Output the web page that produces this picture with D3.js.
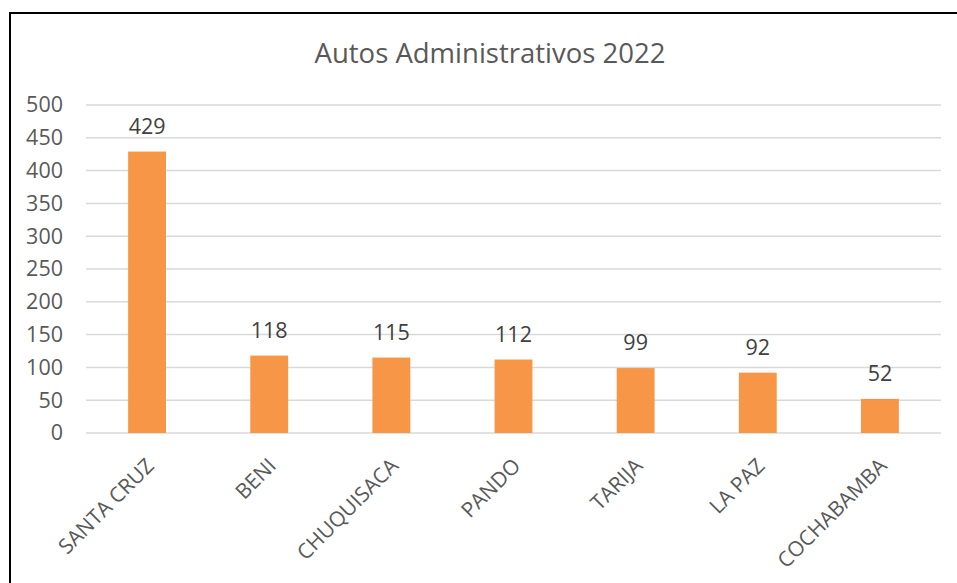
<!doctype html>
<html lang="es">
<head>
    <meta charset="UTF-8">
    <title>Autos Administrativos 2022</title>
    <style>
        body { margin: 0; background: #fff; }
        text { font-family: "Open Sans", sans-serif; fill: #595959; }
    </style>
</head>
<body>
    <svg width="957" height="583"></svg>
    <script src="https://cdn.jsdelivr.net/npm/d3@7"></script>
    <script>
        const departamentos = ["SANTA CRUZ", "BENI", "CHUQUISACA", "PANDO", "TARIJA", "LA PAZ", "COCHABAMBA"];
        const autos = [429, 118, 115, 112, 99, 92, 52];
        const yTicks = [0, 50, 100, 150, 200, 250, 300, 350, 400, 450, 500];
        const titulo = "Autos Administrativos 2022";

        const svg = d3.select("svg"),
            margin = {top: 105, right: 16, bottom: 150, left: 86},
            width = 941 - margin.left,
            height = 433 - margin.top,
            g = svg.append("g").attr("transform", "translate(" + margin.left + "," + margin.top + ")");

        // marco del grafico
        svg.append("rect")
            .attr("x", 10).attr("y", 13)
            .attr("width", 960).attr("height", 600)
            .attr("fill", "none")
            .attr("stroke", "#000")
            .attr("stroke-width", 2);

        svg.append("text")
            .attr("x", 490).attr("y", 63)
            .attr("text-anchor", "middle")
            .style("font-size", "27.5px")
            .text(titulo);

        const x = d3.scaleBand()
            .domain(departamentos)
            .range([0, width])
            .paddingInner(0.69)
            .paddingOuter(0.345);

        const y = d3.scaleLinear()
            .domain([0, 500])
            .range([height, 0]);

        // lineas de cuadricula
        g.append("g")
            .selectAll("line")
            .data(yTicks)
            .enter().append("line")
            .attr("x1", 0).attr("x2", width)
            .attr("y1", d => y(d)).attr("y2", d => y(d))
            .attr("stroke", "#d9d9d9")
            .attr("stroke-width", 1.5);

        const yAxis = g.append("g")
            .call(d3.axisLeft(y).tickValues(yTicks).tickSize(0).tickPadding(23));
        yAxis.select(".domain").remove();
        yAxis.selectAll("text")
            .style("font-size", "21.5px")
            .attr("fill", "#595959");

        // etiquetas de datos
        g.append("g")
            .selectAll("text")
            .data(autos)
            .enter().append("text")
            .attr("x", (d, i) => x(departamentos[i]) + x.bandwidth() / 2)
            .attr("y", d => y(d) - 18)
            .attr("text-anchor", "middle")
            .style("font-size", "21.5px")
            .style("fill", "#404040")
            .text(d => d);

        g.append("g")
            .selectAll("rect")
            .data(autos)
            .enter().append("rect")
            .attr("x", (d, i) => x(departamentos[i]))
            .attr("y", d => y(d))
            .attr("width", x.bandwidth())
            .attr("height", d => height - y(d))
            .attr("fill", "#f79646");

        const xAxis = g.append("g")
            .attr("transform", "translate(0," + height + ")")
            .call(d3.axisBottom(x).tickSize(0).tickPadding(0));
        xAxis.select(".domain").remove();
        xAxis.selectAll("text")
            .style("font-size", "21px")
            .attr("fill", "#595959")
            .attr("text-anchor", "end")
            .attr("dy", "0.35em")
            .attr("transform", "translate(3,29) rotate(-45)");
    </script>
</body>
</html>
